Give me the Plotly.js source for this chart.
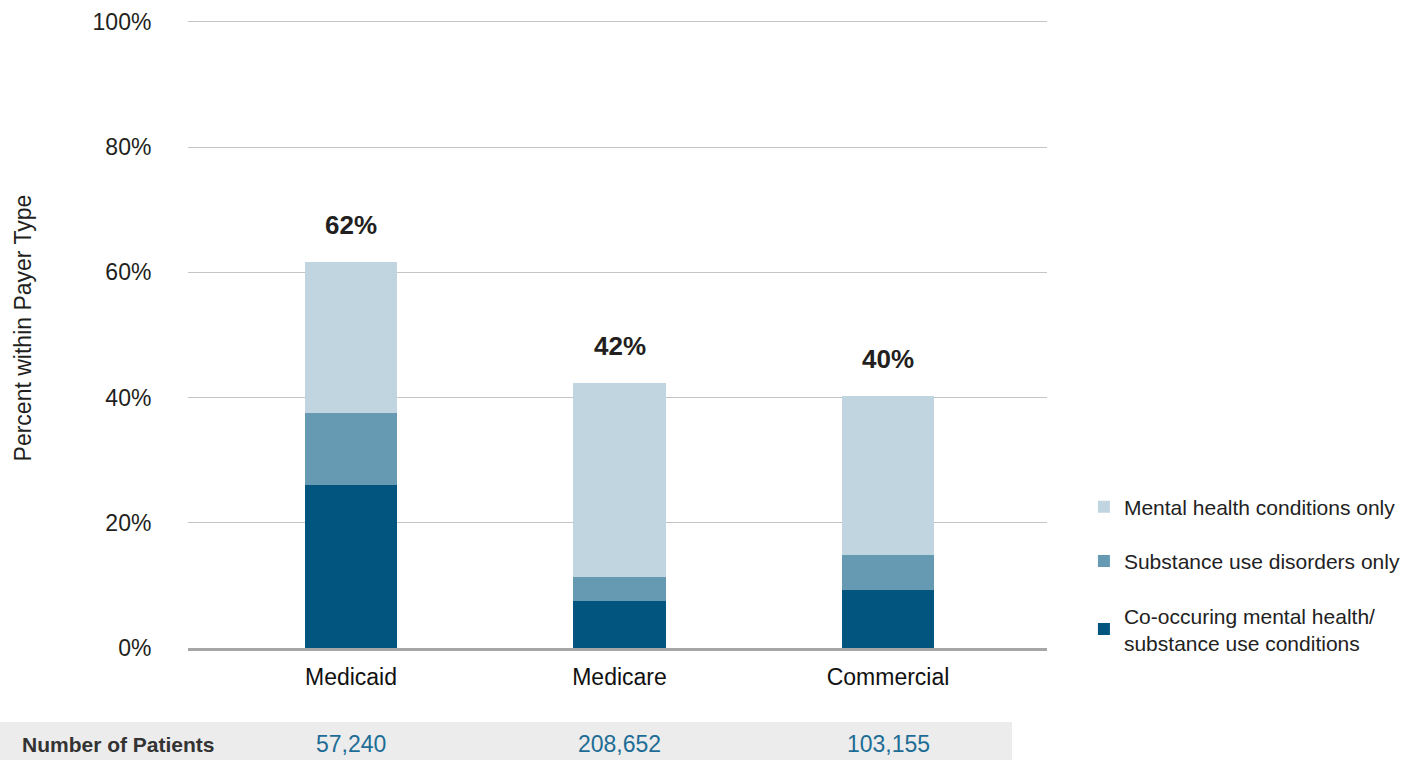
<!DOCTYPE html>
<html>
<head>
<meta charset="utf-8">
<script src="https://cdn.plot.ly/plotly-3.0.1.min.js"></script>
<style>html,body{margin:0;padding:0;background:#fff;}#chart{width:1423px;height:760px;}</style>
</head>
<body>
<div id="chart"></div>
<script>
const categories = ["Medicaid", "Medicare", "Commercial"];
const coOccurring = [26.0, 7.5, 9.2];
const substanceOnly = [11.5, 3.8, 5.6];
const mentalOnly = [24.2, 31.1, 25.5];
const patients = ["57,240", "208,652", "103,155"];
const yTickVals = [0, 20, 40, 60, 80, 100];
const yTickText = ["0%", "20%", "40%", "60%", "80%", "100%"];
const seriesNames = ["Co-occuring mental health/<br>substance use conditions", "Substance use disorders only", "Mental health conditions only"];
const seriesColors = ["#02557f", "#6699b2", "#c1d5e0"];
const legendRanks = [3, 2, 1];

const FONT = "Liberation Sans, Arial, Helvetica, sans-serif";
const seriesValues = [coOccurring, substanceOnly, mentalOnly];

const traces = seriesValues.map((vals, i) => ({
  type: "bar",
  x: categories,
  y: vals,
  name: seriesNames[i],
  legendgroup: "g" + i,
  legendrank: legendRanks[i],
  marker: {color: seriesColors[i], line: {width: 0}},
  width: 0.343,
  hoverinfo: "skip"
}));

const totals = categories.map((c, j) => seriesValues.reduce((s, v) => s + v[j], 0));

const annotations = [];
categories.forEach((c, j) => {
  annotations.push({
    x: c, y: totals[j], xref: "x", yref: "y",
    text: "<b>" + Math.round(totals[j]) + "%</b>",
    showarrow: false, yanchor: "bottom", yshift: 20,
    font: {family: FONT, size: 26, color: "#231f20"}
  });
  annotations.push({
    x: c, y: -0.153, xref: "x", yref: "paper",
    text: patients[j],
    showarrow: false, yanchor: "middle",
    font: {family: FONT, size: 23, color: "#1d6c95"}
  });
});
annotations.push({
  x: -0.1956, y: -0.153, xref: "paper", yref: "paper",
  text: "<b>Number of Patients</b>", showarrow: false,
  xanchor: "left", yanchor: "middle",
  font: {family: FONT, size: 21, color: "#333333"}
});
annotations.push({
  x: -0.192, y: 0.509, xref: "paper", yref: "paper",
  text: "Percent within Payer Type", showarrow: false,
  textangle: -90, xanchor: "center", yanchor: "middle",
  font: {family: FONT, size: 23, color: "#231f20"}
});

const layout = {
  width: 1423, height: 760,
  margin: {l: 188, r: 376, t: 20, b: 112},
  paper_bgcolor: "#ffffff", plot_bgcolor: "#ffffff",
  barmode: "stack",
  bargap: 0.6,
  showlegend: true,
  legend: {
    x: 1.043, y: 0.257, xanchor: "left", yanchor: "top",
    traceorder: "grouped",
    tracegroupgap: 24,
    font: {family: FONT, size: 21, color: "#222222"},
    bgcolor: "rgba(0,0,0,0)"
  },
  xaxis: {
    type: "category",
    range: [-0.607, 2.592],
    showgrid: false, zeroline: false,
    showline: true, linecolor: "#a6a6a6", linewidth: 3,
    ticks: "outside", ticklen: 6, tickcolor: "rgba(0,0,0,0)",
    tickfont: {family: FONT, size: 23, color: "#111111"},
    fixedrange: true
  },
  yaxis: {
    range: [0, 100.3],
    tickmode: "array",
    tickvals: yTickVals,
    ticktext: yTickText,
    showgrid: true, gridcolor: "#c4c4c4", gridwidth: 1,
    zeroline: false, showline: false,
    ticks: "outside", ticklen: 31, tickcolor: "rgba(0,0,0,0)",
    tickfont: {family: FONT, size: 23, color: "#231f20"},
    fixedrange: true
  },
  shapes: [{
    type: "rect", xref: "paper", yref: "paper",
    x0: -0.2189, x1: 0.9593, y0: -0.1783, y1: -0.1178,
    fillcolor: "#ececec", line: {width: 0}, layer: "below"
  }],
  annotations: annotations
};

Plotly.newPlot("chart", traces, layout, {displayModeBar: false, staticPlot: true});
</script>
</body>
</html>
